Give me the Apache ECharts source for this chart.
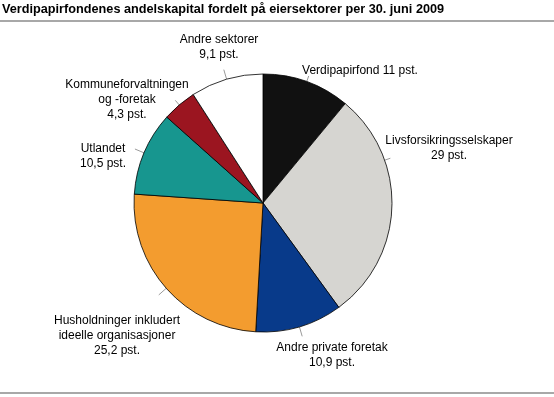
<!DOCTYPE html>
<html lang="no">
<head>
    <meta charset="UTF-8"/>
    <title>andelskapital</title>
    <script src="https://cdn.jsdelivr.net/npm/echarts@6/dist/echarts.min.js"></script>
    <style>
        html, body { margin: 0; padding: 0; background: #fff; }
        #main { width: 554px; height: 397px; }
    </style>
</head>
<body>
<div id="main"></div>
<script type="text/javascript">
    // sektorer, med linjeskift slik de står i figuren
    var sectors = [
        'Verdipapirfond',
        'Livsforsikringsselskaper',
        'Andre private foretak',
        'Husholdninger inkludert\nideelle organisasjoner',
        'Utlandet',
        'Kommuneforvaltningen\nog -foretak',
        'Andre sektorer'
    ];
    var shares = [11, 29, 10.9, 25.2, 10.5, 4.3, 9.1];
    var colors = ['#111111', '#d6d5d1', '#083a8a', '#f39c2f', '#17968f', '#9b1520', '#ffffff'];

    // plassering av etikettene (midtpunkt), lest av figuren
    var labelPos = [[360, 71], [449, 148], [332, 355], [117, 336], [103, 156], [127, 100], [219, 47]];
    var CX = 263, CY = 203, R = 129;

    var myChart = echarts.init(document.getElementById('main'));

    var data = [];
    var total = 0;
    for (var i = 0; i < sectors.length; i++) {
        data.push({ name: sectors[i], value: shares[i], itemStyle: { color: colors[i] } });
        total += shares[i];
    }

    function norm(a) {
        while (a > 180) a -= 360;
        while (a <= -180) a += 360;
        return a;
    }
    function ang(x, y) {
        return Math.atan2(CY - y, x - CX) * 180 / Math.PI;
    }

    function fmt(p) {
        var v = String(p.value).replace('.', ',') + ' pst.';
        var lines;
        if (p.dataIndex === 0) {
            lines = [p.name + ' ' + v];
        } else {
            lines = p.name.split('\n').concat([v]);
        }
        return lines.map(function (l) { return '{c|' + l + '}'; }).join('\n');
    }

    // kort radiell strek fra kanten av sektoren mot etiketten
    function guide(idx, p, w, h) {
        var cum = 0;
        for (var k = 0; k < idx; k++) cum += shares[k];
        var mid = norm(90 - 360 * (cum + shares[idx] / 2) / total);
        var x0 = p[0] - w / 2, x1 = p[0] + w / 2, y0 = p[1] - h / 2 + 3, y1 = p[1] + h / 2 - 3;
        var corners = [[x0, y0], [x1, y0], [x0, y1], [x1, y1]];
        var lo = Infinity, hi = -Infinity;
        corners.forEach(function (c) {
            var dd = norm(ang(c[0], c[1]) - mid);
            lo = Math.min(lo, dd);
            hi = Math.max(hi, dd);
        });
        var a = mid;
        if (lo > 0 || hi < 0) {
            var nx = Math.min(Math.max(CX, x0), x1);
            var ny = Math.min(Math.max(CY, y0), y1);
            a = ang(nx, ny);
        }
        var ux = Math.cos(a * Math.PI / 180), uy = -Math.sin(a * Math.PI / 180);
        var end = R + 6;
        while (end < R + 10) {
            var px = CX + ux * (end + 0.5), py = CY + uy * (end + 0.5);
            if (px > x0 - 1 && px < x1 + 1 && py > y0 - 1 && py < y1 + 1) break;
            end += 0.5;
        }
        return [[CX + ux * R, CY + uy * R], [CX + ux * end, CY + uy * end]];
    }

    var option = {
        animation: false,
        textStyle: { fontFamily: 'Liberation Sans, Arial, sans-serif' },
        title: {
            text: 'Verdipapirfondenes andelskapital fordelt på eiersektorer per 30. juni 2009',
            left: -3,
            top: -2,
            textStyle: { fontSize: 12.7, fontWeight: 'bold', color: '#000' }
        },
        graphic: [
            { type: 'rect', shape: { x: 0, y: 20, width: 554, height: 2 }, style: { fill: '#a8a8a8' } },
            { type: 'rect', shape: { x: 0, y: 392, width: 554, height: 2 }, style: { fill: '#a8a8a8' } }
        ],
        series: [
            {
                type: 'pie',
                center: [CX, CY],
                radius: R,
                startAngle: 90,
                clockwise: true,
                data: data,
                itemStyle: { borderColor: '#000', borderWidth: 0.8 },
                label: {
                    show: true,
                    position: 'outside',
                    formatter: fmt,
                    overflow: 'none',
                    color: '#000',
                    fontSize: 12,
                    lineHeight: 15,
                    rich: { c: { align: 'center', fontSize: 12, lineHeight: 15, color: '#000' } }
                },
                labelLine: {
                    show: true,
                    length: 10,
                    length2: 0,
                    lineStyle: { color: '#9a9a9a', width: 1 }
                },
                labelLayout: function (params) {
                    var p = labelPos[params.dataIndex];
                    return {
                        x: p[0],
                        y: p[1],
                        align: 'center',
                        verticalAlign: 'middle',
                        labelLinePoints: guide(params.dataIndex, p, params.labelRect.width, params.labelRect.height)
                    };
                },
                emphasis: { disabled: true }
            }
        ]
    };
    myChart.setOption(option);
</script>
</body>
</html>
